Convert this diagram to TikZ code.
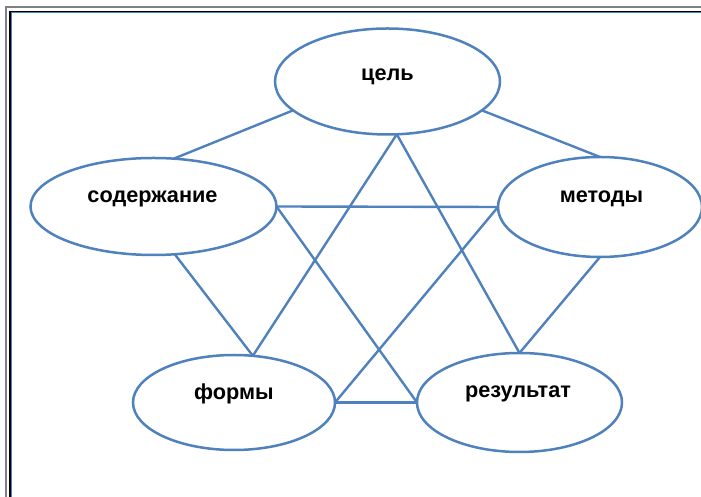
\documentclass[tikz,border=0pt]{standalone}
\usepackage{fontspec}
\setmainfont{Liberation Sans}
\usetikzlibrary{shapes.geometric}
\definecolor{lineblue}{HTML}{4F81BD}
\begin{document}
\begin{tikzpicture}[x=1pt,y=1pt,
  ell/.style={ellipse, draw=lineblue, line width=2.5pt, fill=white, inner sep=0pt, outer sep=0pt},
  lbl/.style={font=\fontsize{21.7}{26}\selectfont\bfseries, inner sep=0pt},
  conn/.style={draw=lineblue, line width=2.4pt}]
\useasboundingbox (0,0) rectangle (701,497);
% frame
\draw[gray, line width=1.3pt] (6,-10) -- (6,490) -- (711,490);
\draw[black, line width=1.6pt] (10.2,-10) -- (10.2,485.6) -- (711,485.6);
\draw[lineblue, line width=1pt] (11.8,-10) -- (11.8,484.2) -- (711,484.2);
% ellipses
\node[ell, minimum width=225pt, minimum height=106pt] (cel) at (387.5,415.5) {};
\node[ell, minimum width=246pt, minimum height=97pt] (sod) at (153.5,290.5) {};
\node[ell, minimum width=204pt, minimum height=100pt] (met) at (600,290) {};
\node[ell, minimum width=202pt, minimum height=95pt] (form) at (234,94.5) {};
\node[ell, minimum width=205pt, minimum height=99pt] (res) at (519.5,94.5) {};
% connectors
\path[conn] (cel.197) -- (sod.67.7);
\path[conn] (cel.343) -- (met.north);
\path[conn] (cel.280) -- (form.68);
\path[conn] (cel.280) -- (res.north);
\path[conn] (sod.east) -- (met.west);
\path[conn] (sod.east) -- (res.west);
\path[conn] (met.west) -- (form.east);
\path[conn] (form.east) -- (res.west);
\path[conn] (sod.-66.5) -- (form.68);
\path[conn] (met.south) -- (res.north);
% labels
\node[lbl] (tcel) at ([yshift=4.5pt]cel.center) {цель};
\node[lbl] (tsod) at ([yshift=8pt,xshift=-1pt]sod.center) {содержание};
\node[lbl] (tmet) at ([yshift=8pt,xshift=1.5pt]met.center) {методы};
\node[lbl] (tform) at ([yshift=9pt]form.center) {формы};
\node[lbl] (tres) at ([yshift=9pt,xshift=-1.5pt]res.center) {результат};
\end{tikzpicture}
\end{document}
